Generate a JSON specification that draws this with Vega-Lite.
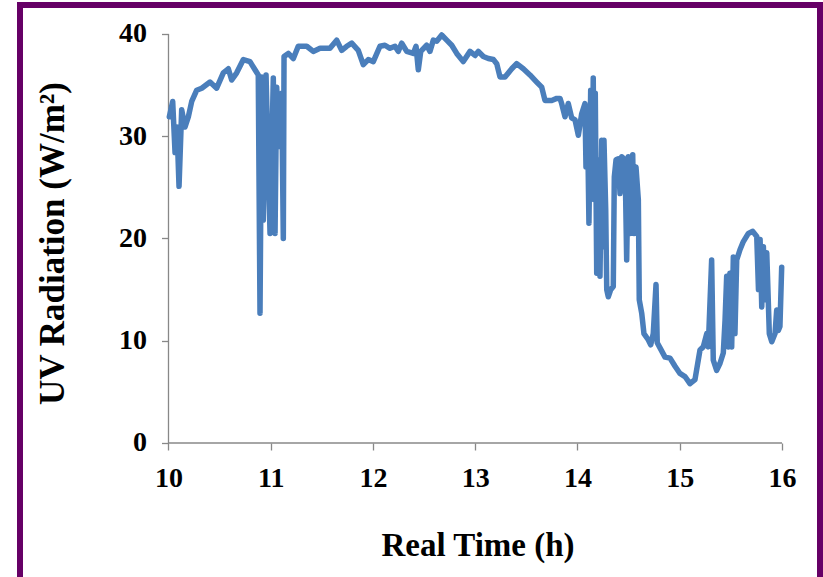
{
  "$schema": "https://vega.github.io/schema/vega-lite/v6.json",
  "width": 800,
  "height": 575,
  "autosize": {"type": "none"},
  "padding": {"left": 20, "top": 5, "right": 3, "bottom": 0},
  "background": "white",
  "config": {"view": {"stroke": "#660066", "strokeWidth": 6}, "font": "Liberation Serif"},
  "datasets": {
    "uv": [
      {"t": 10.008, "v": 31.9}, {"t": 10.041, "v": 33.4}, {"t": 10.064, "v": 28.4}, {"t": 10.083, "v": 30.9},
      {"t": 10.103, "v": 25.1}, {"t": 10.129, "v": 32.6}, {"t": 10.161, "v": 30.9}, {"t": 10.194, "v": 31.9},
      {"t": 10.227, "v": 33.4}, {"t": 10.276, "v": 34.5}, {"t": 10.325, "v": 34.7}, {"t": 10.406, "v": 35.3},
      {"t": 10.471, "v": 34.7}, {"t": 10.536, "v": 36.2}, {"t": 10.585, "v": 36.6}, {"t": 10.618, "v": 35.5},
      {"t": 10.667, "v": 36.2}, {"t": 10.732, "v": 37.5}, {"t": 10.797, "v": 37.3}, {"t": 10.846, "v": 36.5},
      {"t": 10.878, "v": 36.0}, {"t": 10.895, "v": 12.7}, {"t": 10.912, "v": 35.8}, {"t": 10.927, "v": 21.8},
      {"t": 10.954, "v": 36.0}, {"t": 10.993, "v": 20.5}, {"t": 11.025, "v": 35.7}, {"t": 11.042, "v": 20.5},
      {"t": 11.058, "v": 34.8}, {"t": 11.084, "v": 29.0}, {"t": 11.107, "v": 34.2}, {"t": 11.123, "v": 20.0},
      {"t": 11.130, "v": 37.8}, {"t": 11.172, "v": 38.1}, {"t": 11.221, "v": 37.6}, {"t": 11.269, "v": 38.8},
      {"t": 11.352, "v": 38.8}, {"t": 11.416, "v": 38.3}, {"t": 11.482, "v": 38.6}, {"t": 11.579, "v": 38.6},
      {"t": 11.645, "v": 39.4}, {"t": 11.694, "v": 38.4}, {"t": 11.743, "v": 38.8}, {"t": 11.792, "v": 39.1},
      {"t": 11.856, "v": 38.4}, {"t": 11.905, "v": 37.0}, {"t": 11.954, "v": 37.5}, {"t": 12.003, "v": 37.3},
      {"t": 12.068, "v": 38.8}, {"t": 12.117, "v": 38.9}, {"t": 12.166, "v": 38.6}, {"t": 12.215, "v": 38.8},
      {"t": 12.247, "v": 38.3}, {"t": 12.281, "v": 39.1}, {"t": 12.330, "v": 38.3}, {"t": 12.394, "v": 38.1},
      {"t": 12.421, "v": 38.8}, {"t": 12.443, "v": 36.5}, {"t": 12.467, "v": 38.3}, {"t": 12.525, "v": 38.9},
      {"t": 12.557, "v": 38.3}, {"t": 12.590, "v": 39.4}, {"t": 12.623, "v": 39.3}, {"t": 12.672, "v": 39.9},
      {"t": 12.721, "v": 39.4}, {"t": 12.770, "v": 38.9}, {"t": 12.819, "v": 38.1}, {"t": 12.883, "v": 37.3},
      {"t": 12.949, "v": 38.3}, {"t": 12.998, "v": 37.9}, {"t": 13.030, "v": 38.3}, {"t": 13.079, "v": 37.8},
      {"t": 13.128, "v": 37.6}, {"t": 13.177, "v": 37.5}, {"t": 13.210, "v": 37.1}, {"t": 13.242, "v": 35.8},
      {"t": 13.291, "v": 35.8}, {"t": 13.357, "v": 36.6}, {"t": 13.405, "v": 37.1}, {"t": 13.470, "v": 36.6},
      {"t": 13.535, "v": 36.0}, {"t": 13.601, "v": 35.3}, {"t": 13.650, "v": 34.8}, {"t": 13.682, "v": 33.5},
      {"t": 13.748, "v": 33.5}, {"t": 13.797, "v": 33.7}, {"t": 13.829, "v": 33.7}, {"t": 13.845, "v": 33.2},
      {"t": 13.878, "v": 31.9}, {"t": 13.910, "v": 33.2}, {"t": 13.943, "v": 31.8}, {"t": 13.976, "v": 31.6},
      {"t": 14.008, "v": 30.1}, {"t": 14.041, "v": 32.2}, {"t": 14.073, "v": 33.2}, {"t": 14.083, "v": 27.0},
      {"t": 14.096, "v": 32.9}, {"t": 14.112, "v": 21.5}, {"t": 14.129, "v": 34.5}, {"t": 14.145, "v": 24.4},
      {"t": 14.154, "v": 35.7}, {"t": 14.164, "v": 23.8}, {"t": 14.174, "v": 34.2}, {"t": 14.188, "v": 16.6},
      {"t": 14.203, "v": 27.7}, {"t": 14.220, "v": 16.3}, {"t": 14.237, "v": 29.6}, {"t": 14.246, "v": 19.2},
      {"t": 14.259, "v": 29.6}, {"t": 14.276, "v": 22.8}, {"t": 14.286, "v": 15.0}, {"t": 14.301, "v": 14.3},
      {"t": 14.325, "v": 15.0}, {"t": 14.350, "v": 15.3}, {"t": 14.360, "v": 26.0}, {"t": 14.377, "v": 27.7},
      {"t": 14.399, "v": 27.8}, {"t": 14.416, "v": 24.4}, {"t": 14.433, "v": 28.0}, {"t": 14.465, "v": 27.7},
      {"t": 14.481, "v": 17.9}, {"t": 14.497, "v": 28.0}, {"t": 14.513, "v": 20.5}, {"t": 14.540, "v": 28.2},
      {"t": 14.553, "v": 20.5}, {"t": 14.572, "v": 27.0}, {"t": 14.595, "v": 23.8}, {"t": 14.604, "v": 14.0},
      {"t": 14.628, "v": 12.7}, {"t": 14.650, "v": 10.7}, {"t": 14.692, "v": 10.1}, {"t": 14.716, "v": 9.6},
      {"t": 14.741, "v": 10.7}, {"t": 14.768, "v": 15.5}, {"t": 14.780, "v": 9.8}, {"t": 14.807, "v": 9.3},
      {"t": 14.856, "v": 8.4}, {"t": 14.905, "v": 8.3}, {"t": 14.954, "v": 7.5}, {"t": 15.002, "v": 6.8},
      {"t": 15.051, "v": 6.5}, {"t": 15.100, "v": 5.8}, {"t": 15.149, "v": 6.2}, {"t": 15.181, "v": 8.1},
      {"t": 15.198, "v": 9.1}, {"t": 15.230, "v": 9.4}, {"t": 15.264, "v": 10.7}, {"t": 15.279, "v": 9.4},
      {"t": 15.312, "v": 17.9}, {"t": 15.328, "v": 8.1}, {"t": 15.361, "v": 7.1}, {"t": 15.394, "v": 7.8},
      {"t": 15.426, "v": 8.8}, {"t": 15.443, "v": 12.0}, {"t": 15.459, "v": 16.3}, {"t": 15.475, "v": 9.4},
      {"t": 15.491, "v": 16.6}, {"t": 15.508, "v": 9.4}, {"t": 15.524, "v": 18.2}, {"t": 15.540, "v": 10.7},
      {"t": 15.557, "v": 17.9}, {"t": 15.589, "v": 18.9}, {"t": 15.622, "v": 19.7}, {"t": 15.671, "v": 20.5},
      {"t": 15.714, "v": 20.7}, {"t": 15.753, "v": 20.2}, {"t": 15.770, "v": 15.0}, {"t": 15.786, "v": 19.9},
      {"t": 15.802, "v": 13.3}, {"t": 15.818, "v": 19.2}, {"t": 15.834, "v": 14.0}, {"t": 15.851, "v": 18.6},
      {"t": 15.876, "v": 10.7}, {"t": 15.900, "v": 9.9}, {"t": 15.932, "v": 10.7}, {"t": 15.948, "v": 13.0},
      {"t": 15.964, "v": 11.0}, {"t": 15.980, "v": 11.4}, {"t": 15.997, "v": 17.2}
    ],
    "xaxisline": [{"x": 10, "x2": 16, "y": 0}],
    "yaxisline": [{"x": 10, "y": 0, "y2": 40}]
  },
  "layer": [
    {
      "data": {"name": "xaxisline"},
      "mark": {"type": "rule", "color": "#888888", "strokeWidth": 1.3},
      "encoding": {"x": {"field": "x", "type": "quantitative"}, "x2": {"field": "x2"}, "y": {"field": "y", "type": "quantitative"}}
    },
    {
      "data": {"name": "yaxisline"},
      "mark": {"type": "rule", "color": "#888888", "strokeWidth": 1.3},
      "encoding": {"x": {"field": "x", "type": "quantitative"}, "y": {"field": "y", "type": "quantitative"}, "y2": {"field": "y2"}}
    },
    {
      "data": {"name": "uv"},
      "mark": {"type": "line", "color": "#4a7ebb", "strokeWidth": 5.5, "strokeJoin": "round", "strokeCap": "round"},
      "encoding": {
        "x": {
          "field": "t", "type": "quantitative",
          "scale": {"domain": [8.5477, 16.3717], "nice": false, "zero": false},
          "axis": {
            "values": [10, 11, 12, 13, 14, 15, 16], "format": "d", "offset": -137, "domain": false, "grid": false,
            "tickColor": "#888888", "tickSize": 7, "tickWidth": 1.3,
            "labelFont": "Liberation Serif", "labelFontWeight": "bold", "labelFontSize": 28, "labelColor": "#000000",
            "labelPadding": 14, "labelFlush": false, "labelOverlap": false,
            "title": "Real Time (h)", "titleFont": "Liberation Serif", "titleFontWeight": "bold", "titleFontSize": 33,
            "titleColor": "#000000", "titleX": 457.5, "titleY": 112, "titleBaseline": "alphabetic"
          }
        },
        "y": {
          "field": "v", "type": "quantitative",
          "scale": {"domain": [-13.399, 42.836], "nice": false, "zero": false},
          "axis": {
            "values": [0, 10, 20, 30, 40], "format": "d", "offset": -148.5, "domain": false, "grid": false,
            "tickColor": "#888888", "tickSize": 7, "tickWidth": 1.3,
            "labelFont": "Liberation Serif", "labelFontWeight": "bold", "labelFontSize": 28, "labelColor": "#000000",
            "labelPadding": 15, "labelFlush": false, "labelOverlap": false,
            "title": "UV Radiation (W/m²)", "titleFont": "Liberation Serif", "titleFontWeight": "bold", "titleFontSize": 35,
            "titleColor": "#000000", "titleX": -105, "titleY": 238, "titleBaseline": "alphabetic", "titleAngle": 270
          }
        }
      }
    }
  ]
}
